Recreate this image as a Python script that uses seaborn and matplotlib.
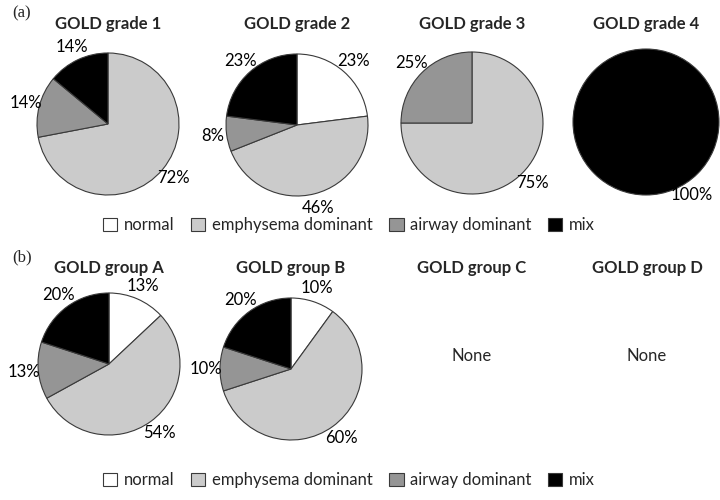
"""
GOLD grade / group - lung phenotype pie charts
"""
import numpy as np
import matplotlib.pyplot as plt
import matplotlib.patches as mpatches
import seaborn as sns

sns.set_theme(style="white")
plt.rcParams['font.family'] = ['Lato', 'DejaVu Sans']

# ========== data ==========
categories = ['normal', 'emphysema dominant', 'airway dominant', 'mix']
colors = ['#ffffff', '#cbcbcb', '#959595', '#000000']

grade_titles = ['GOLD grade 1', 'GOLD grade 2', 'GOLD grade 3', 'GOLD grade 4']
grade_1 = [0, 72, 14, 14]
grade_2 = [23, 46, 8, 23]
grade_3 = [0, 75, 25, 0]
grade_4 = [0, 0, 0, 100]

group_titles = ['GOLD group A', 'GOLD group B', 'GOLD group C', 'GOLD group D']
group_a = [13, 54, 13, 20]
group_b = [10, 60, 10, 20]
group_c = None
group_d = None

W, H = 720, 500
R = 71  # pie radius in px
LIM = 1.4

fig = plt.figure(figsize=(7.2, 5.0), dpi=100)


def pie_axes(cx, cy, r=R):
    size = 2 * LIM * r
    return fig.add_axes([(cx - size / 2) / W, 1 - (cy + size / 2) / H, size / W, size / H])


def draw_pie(cx, cy, vals, r=R):
    ax = pie_axes(cx, cy, r)
    keep = [i for i, v in enumerate(vals) if v > 0]
    v = [vals[i] for i in keep]
    c = [colors[i] for i in keep]
    _, _, autotexts = ax.pie(v, colors=c, startangle=90, counterclock=False,
                             autopct=lambda p: f'{p:.0f}%', pctdistance=1.2,
                             textprops={'fontsize': 12, 'color': 'black'},
                             wedgeprops={'edgecolor': '#3a3a3a', 'linewidth': 0.8})
    # single full wedge: excel puts the label at lower right
    if len(v) == 1:
        a = np.deg2rad(-58)
        autotexts[0].set_position((1.18 * np.cos(a), 1.18 * np.sin(a)))
    ax.set_xlim(-LIM, LIM)
    ax.set_ylim(-LIM, LIM)
    ax.set_aspect('equal')
    ax.axis('off')


# ========== (a) GOLD grades ==========
row_a_centers = [(108, 124), (297, 125), (472, 123), (646, 122)]
row_a_radius = [71, 71, 71, 73]
for (cx, cy), r, title, vals in zip(row_a_centers, row_a_radius, grade_titles,
                                    [grade_1, grade_2, grade_3, grade_4]):
    draw_pie(cx, cy, vals, r)
    fig.text(cx / W, 1 - 24 / H, title, ha='center', va='center', fontsize=12, fontweight='bold')

# ========== (b) GOLD groups ==========
row_b_centers = [(109, 364), (291, 369), (472, 364), (647, 364)]
for (cx, cy), title, vals in zip(row_b_centers, group_titles, [group_a, group_b, group_c, group_d]):
    if vals is None:
        fig.text(cx / W, 1 - 356 / H, 'None', ha='center', va='center', fontsize=12)
    else:
        draw_pie(cx, cy, vals)
    fig.text(cx / W, 1 - 268 / H, title, ha='center', va='center', fontsize=12, fontweight='bold')

fig.text(12 / W, 1 - 13 / H, '(a)', family='Liberation Serif', fontsize=12, va='center')
fig.text(12 / W, 1 - 257 / H, '(b)', family='Liberation Serif', fontsize=12, va='center')

# ========== legends ==========
handles = [mpatches.Patch(facecolor=col, edgecolor='#3a3a3a', linewidth=0.8, label=lab)
           for col, lab in zip(colors, categories)]
for ly in [225, 480]:
    fig.legend(handles=handles, loc='center', bbox_to_anchor=(349 / W, 1 - ly / H),
               ncol=4, frameon=False, fontsize=12, handlelength=0.85, handleheight=0.85,
               handletextpad=0.4, columnspacing=1.0)

plt.savefig('out.png', dpi=100)
